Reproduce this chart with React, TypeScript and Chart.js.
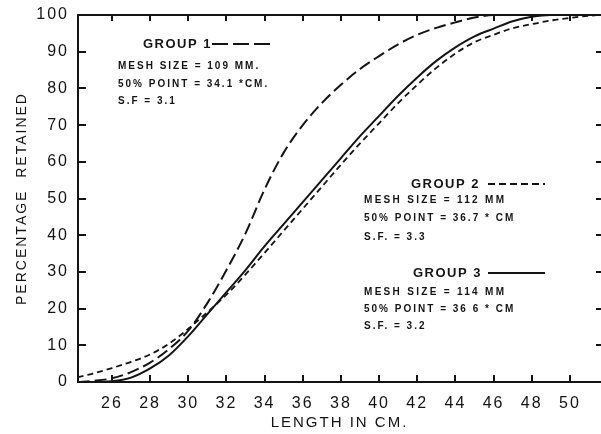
import React, { useEffect, useRef } from 'react';
import { Chart, registerables } from 'chart.js';

Chart.register(...registerables);

// ---- data ----
const lengthCm = [24.2, 25, 26, 27, 28, 29, 30, 31, 32, 33, 34, 35, 36, 37, 38, 39, 40, 41, 42, 43, 44, 45, 46, 47, 48, 49, 50, 51, 51.6];
const group1 = [0, 0.3, 1, 2.7, 5.3, 9, 14, 21.5, 30.5, 40.5, 52.5, 62.5, 70, 76, 81, 85.3, 88.8, 92, 94.6, 96.5, 98, 99.3, 100, 100, 100, 100, 100, 100, 100];
const group2 = [1.3, 2.3, 3.8, 5.5, 7.5, 10.5, 14.5, 19, 23.8, 29.3, 35.2, 41.2, 47.2, 53.2, 59.2, 65, 70.5, 76, 81, 85.6, 89.5, 92.6, 94.6, 96.4, 97.5, 98.5, 99.2, 99.8, 100];
const group3 = [0, 0, 0.2, 1.2, 3.7, 7.3, 12.5, 18.5, 24.5, 30.5, 37, 43, 49, 55, 61, 67, 72.5, 78, 83, 87.5, 91.2, 94.2, 96.3, 98.3, 99.5, 100, 100, 100, 100];

const xTickValues = [26, 28, 30, 32, 34, 36, 38, 40, 42, 44, 46, 48, 50];
const yTickValues = [0, 10, 20, 30, 40, 50, 60, 70, 80, 90, 100];

const xTitle = 'LENGTH IN CM.';
const yTitle = 'PERCENTAGE  RETAINED';

const group1Title = 'GROUP 1';
const group1Notes = ['MESH SIZE = 109 MM.', '50% POINT = 34.1 *CM.', 'S.F = 3.1'];
const group2Title = 'GROUP 2';
const group2Notes = ['MESH SIZE = 112 MM', '50% POINT = 36.7 * CM', 'S.F. = 3.3'];
const group3Title = 'GROUP 3';
const group3Notes = ['MESH SIZE = 114 MM', '50% POINT = 36 6 * CM', 'S.F. = 3.2'];

const INK = '#141414';
const FONT = "'Liberation Sans', Arial, sans-serif";
const LONG_DASH = [12, 5];
const SHORT_DASH = [6, 4];

function toPoints(ys: number[]) {
  return lengthCm.map((x, i) => ({ x, y: ys[i] }));
}

const framePlugin = {
  id: 'frameAndNotes',
  beforeDraw(chart: any) {
    (chart.ctx as any).letterSpacing = '2px';
  },
  afterDraw(chart: any) {
    const ctx: CanvasRenderingContext2D = chart.ctx;
    const a = chart.chartArea;
    const xs = chart.scales.x;
    const ys = chart.scales.y;
    ctx.save();
    (ctx as any).letterSpacing = '0px';
    ctx.fillStyle = INK;
    // top frame line
    ctx.fillRect(a.left - 1, a.top - 1, a.right - a.left + 1, 2);
    // inward ticks
    for (const v of xTickValues) {
      const px = Math.round(xs.getPixelForValue(v));
      ctx.fillRect(px - 1, a.bottom - 7, 2, 7);
      ctx.fillRect(px - 1, a.top, 2, 6);
    }
    for (const v of yTickValues) {
      if (v <= 0 || v >= 100) continue;
      const py = Math.round(ys.getPixelForValue(v));
      ctx.fillRect(a.left, py - 1, 8, 2);
      ctx.fillRect(a.right - 5, py - 1, 5, 2);
    }

    // annotations
    ctx.textAlign = 'left';
    ctx.textBaseline = 'middle';
    const title = (t: string, x: number, y: number) => {
      ctx.font = `bold 13px ${FONT}`;
      (ctx as any).letterSpacing = '1.5px';
      ctx.fillText(t, x, y);
    };
    const note = (t: string, x: number, y: number, sp: string) => {
      ctx.font = `bold 10px ${FONT}`;
      (ctx as any).letterSpacing = sp;
      ctx.fillText(t, x, y);
    };
    const sample = (x0: number, x1: number, y: number, dash: number[]) => {
      ctx.strokeStyle = INK;
      ctx.setLineDash(dash);
      ctx.lineWidth = 2;
      ctx.beginPath();
      ctx.moveTo(x0, y);
      ctx.lineTo(x1, y);
      ctx.stroke();
      ctx.setLineDash([]);
    };

    title(group1Title, 143, 44);
    sample(212, 275, 44, [16, 5]);
    note(group1Notes[0], 118, 66, '2px');
    note(group1Notes[1], 118, 84, '2px');
    note(group1Notes[2], 118, 101, '2px');

    title(group2Title, 411, 184);
    sample(488, 545, 184, [7, 4]);
    note(group2Notes[0], 364, 200, '2.3px');
    note(group2Notes[1], 364, 218, '2px');
    note(group2Notes[2], 364, 237, '2px');

    title(group3Title, 413, 273);
    sample(488, 545, 273, []);
    note(group3Notes[0], 364, 292, '2.3px');
    note(group3Notes[1], 364, 309, '2px');
    note(group3Notes[2], 364, 326, '2px');

    ctx.restore();
  },
};

export default function App() {
  const canvasRef = useRef<HTMLCanvasElement | null>(null);

  useEffect(() => {
    document.body.style.margin = '0';
    const canvas = canvasRef.current;
    if (!canvas) return;
    const chart = new Chart(canvas, {
      type: 'line',
      data: {
        datasets: [
          {
            label: group1Title,
            data: toPoints(group1),
            borderColor: INK,
            borderWidth: 2,
            borderDash: LONG_DASH,
            pointRadius: 0,
            fill: false,
            cubicInterpolationMode: 'monotone',
          },
          {
            label: group2Title,
            data: toPoints(group2),
            borderColor: INK,
            borderWidth: 1.8,
            borderDash: SHORT_DASH,
            pointRadius: 0,
            fill: false,
            cubicInterpolationMode: 'monotone',
          },
          {
            label: group3Title,
            data: toPoints(group3),
            borderColor: INK,
            borderWidth: 2,
            pointRadius: 0,
            fill: false,
            cubicInterpolationMode: 'monotone',
          },
        ],
      },
      options: {
        animation: false,
        responsive: true,
        maintainAspectRatio: false,
        layout: { padding: { top: 15, right: 0, left: 0, bottom: 0 } },
        plugins: {
          legend: { display: false },
          tooltip: { enabled: false },
        },
        scales: {
          x: {
            type: 'linear',
            min: 24.22,
            max: 51.63,
            afterBuildTicks: (scale: any) => {
              scale.ticks = xTickValues.map((value) => ({ value }));
            },
            afterFit: (scale: any) => {
              scale.height = 52;
            },
            grid: { display: false },
            border: { display: true, color: INK, width: 2 },
            ticks: {
              color: INK,
              padding: 4,
              autoSkip: false,
              maxRotation: 0,
              font: { family: FONT, size: 16 },
            },
            title: {
              display: true,
              text: xTitle,
              color: INK,
              font: { family: FONT, size: 15 },
              padding: { top: 0, bottom: 2 },
            },
          },
          y: {
            type: 'linear',
            min: 0,
            max: 100,
            afterBuildTicks: (scale: any) => {
              scale.ticks = yTickValues.map((value) => ({ value }));
            },
            afterFit: (scale: any) => {
              scale.width = 78;
            },
            grid: { display: false },
            border: { display: true, color: INK, width: 2 },
            ticks: {
              color: INK,
              padding: 1,
              font: { family: FONT, size: 16 },
            },
            title: {
              display: true,
              text: yTitle,
              color: INK,
              font: { family: FONT, size: 14 },
              padding: { top: 14, bottom: 0 },
            },
          },
        },
      },
      plugins: [framePlugin],
    } as any);
    return () => chart.destroy();
  }, []);

  return (
    <div style={{ position: 'relative', width: 601, height: 434 }}>
      <canvas ref={canvasRef} />
    </div>
  );
}
